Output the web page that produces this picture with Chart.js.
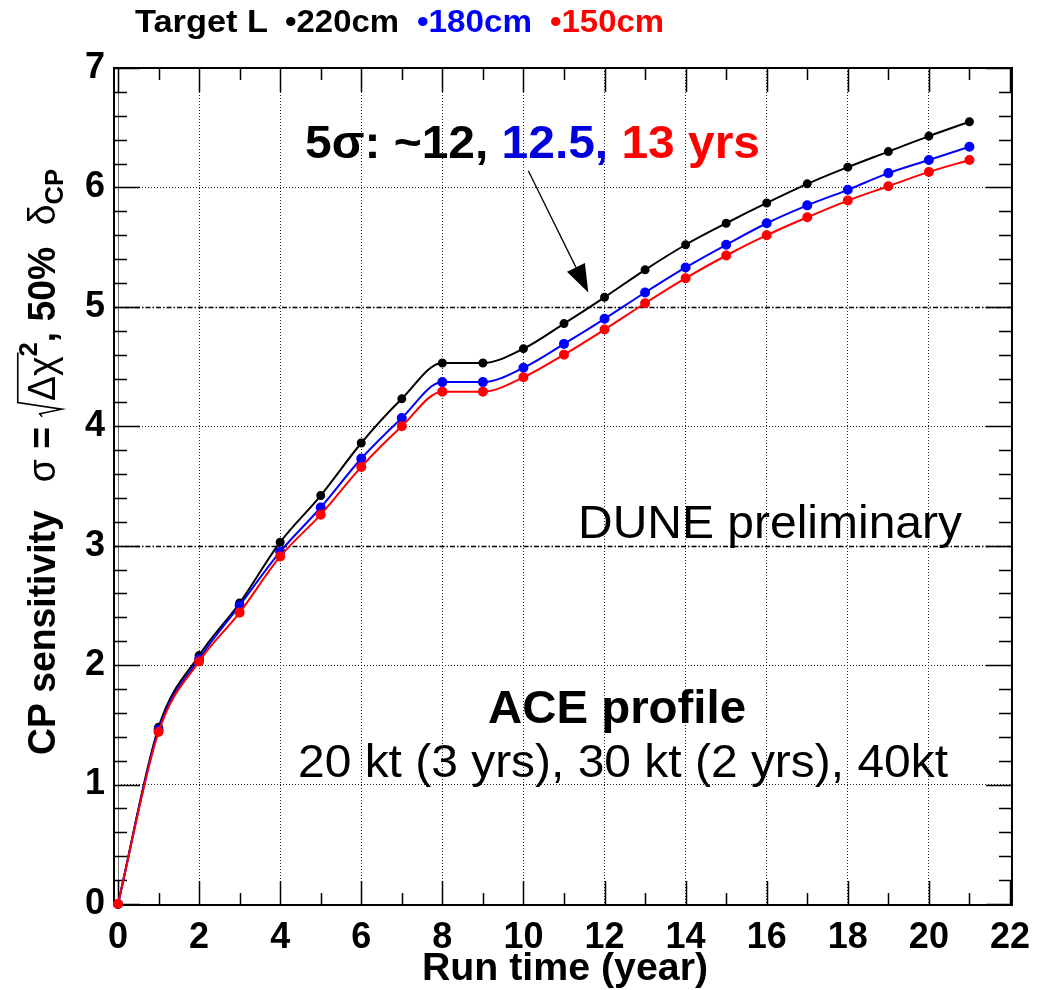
<!DOCTYPE html>
<html>
<head>
<meta charset="utf-8">
<title>CP sensitivity vs run time</title>
<script src="https://cdn.jsdelivr.net/npm/chart.js@4.4.1/dist/chart.umd.min.js"></script>
<style>
  html, body { margin: 0; padding: 0; background: #fff; }
  #wrap { width: 1042px; height: 990px; }
</style>
</head>
<body>
<div id="wrap"><canvas id="cpChart" width="1042" height="990"></canvas></div>
<script>
// run time in years and sqrt(delta chi2) for each target length
const runYears = [0, 1, 2, 3, 4, 5, 6, 7, 8, 9, 10, 11, 12, 13, 14, 15, 16, 17, 18, 19, 20, 21];
const sens220 = [0, 1.48, 2.08, 2.52, 3.03, 3.42, 3.86, 4.23, 4.53, 4.53, 4.65, 4.86, 5.08, 5.31, 5.52, 5.70, 5.87, 6.03, 6.17, 6.30, 6.43, 6.55];
const sens180 = [0, 1.46, 2.05, 2.50, 2.95, 3.32, 3.73, 4.07, 4.37, 4.37, 4.49, 4.69, 4.90, 5.12, 5.33, 5.52, 5.70, 5.85, 5.98, 6.12, 6.23, 6.34];
const sens150 = [0, 1.44, 2.03, 2.44, 2.91, 3.26, 3.66, 4.00, 4.29, 4.29, 4.41, 4.60, 4.81, 5.03, 5.24, 5.43, 5.60, 5.75, 5.89, 6.01, 6.13, 6.23];
const xTicks = [0, 2, 4, 6, 8, 10, 12, 14, 16, 18, 20, 22];
const yTicks = [0, 1, 2, 3, 4, 5, 6, 7];
const sigmaLevels = [3, 5];
// arrow from the 5 sigma note down to the crossing
const arrowFrom = { x: 10.12, y: 6.14 };
const arrowTo = { x: 11.6, y: 5.12 };

const FONT = '"Liberation Sans", Arial, Helvetica, sans-serif';
const BLUE = '#0000ff';
const RED = '#ff0000';

function series(vals) {
  return runYears.map((x, i) => ({ x: x, y: vals[i] }));
}

// draw a string squeezed/stretched to a given width
function fitText(ctx, parts, x0, x1, baseline) {
  let total = 0;
  parts.forEach(p => { total += ctx.measureText(p.t).width; });
  const k = (x1 - x0) / total;
  ctx.save();
  ctx.translate(x0, baseline);
  ctx.scale(k, 1);
  let cx = 0;
  parts.forEach(p => {
    ctx.fillStyle = p.c;
    ctx.fillText(p.t, cx, 0);
    cx += ctx.measureText(p.t).width;
  });
  ctx.restore();
}

// y title: CP sensitivity  σ = √(Δχ²), 50% δ_CP  drawn along a rotated baseline
function drawYTitle(ctx, cx, cy, length) {
  const em = 38;
  const big = 'bold ' + em + 'px ' + FONT;
  const greek = em + 'px ' + FONT;
  const small = 'bold ' + Math.round(em * 0.68) + 'px ' + FONT;
  const segs = [
    { t: 'CP sensitivity', f: big, dy: 0 },
    { gap: 0.75 * em },
    { t: 'σ', f: greek, dy: 0 },
    { t: ' = ', f: big, dy: 0 },
    { radical: true, w: 0.42 * em },
    { t: 'Δχ', f: greek, dy: 0 },
    { t: '2', f: small, dy: -0.48 * em },
    { t: ', 50% ', f: big, dy: 0 },
    { gap: 0.3 * em },
    { t: 'δ', f: greek, dy: 0 },
    { t: 'CP', f: small, dy: 0.22 * em }
  ];
  let total = 0;
  segs.forEach(s => {
    if (s.gap) s.w = s.gap;
    else if (!s.radical) { ctx.font = s.f; s.w = ctx.measureText(s.t).width; }
    total += s.w;
  });
  const k = length / total;
  ctx.save();
  ctx.translate(cx, cy);
  ctx.rotate(-Math.PI / 2);
  ctx.scale(k, 1);
  ctx.fillStyle = '#000';
  ctx.strokeStyle = '#000';
  let x = -total / 2;
  segs.forEach((s, i) => {
    if (s.radical) {
      const under = segs[i + 1].w + 4;
      ctx.lineWidth = 1.6;
      ctx.beginPath();
      ctx.moveTo(x, -0.34 * em);
      ctx.lineTo(x + 0.08 * em, -0.40 * em);
      ctx.lineTo(x + 0.20 * em, 0.18 * em);
      ctx.lineTo(x + 0.38 * em, -0.98 * em);
      ctx.lineTo(x + s.w + under, -0.98 * em);
      ctx.stroke();
    } else if (!s.gap) {
      ctx.font = s.f;
      ctx.fillText(s.t, x, s.dy);
    }
    x += s.w;
  });
  ctx.restore();
}

const frameTicks = {
  id: 'frameTicks',
  beforeDatasetsDraw(chart) {
    const { ctx, chartArea: a, scales: { x, y } } = chart;
    const fl = a.left - 4, fr = a.right + 2, ft = a.top, fb = a.bottom + 1;
    ctx.save();
    // dash-dot lines at 3 and 5 sigma
    ctx.strokeStyle = '#000';
    ctx.lineWidth = 1.6;
    ctx.setLineDash([5, 2, 1.5, 2]);
    sigmaLevels.forEach(v => {
      const py = Math.round(y.getPixelForValue(v)) + 0.5;
      ctx.beginPath();
      ctx.moveTo(fl, py);
      ctx.lineTo(fr, py);
      ctx.stroke();
    });
    ctx.setLineDash([]);
    // frame
    ctx.lineWidth = 2;
    ctx.strokeRect(fl, ft, fr - fl, fb - ft);
    ctx.lineWidth = 1;
    ctx.strokeStyle = '#777';
    ctx.beginPath();
    ctx.moveTo(a.left + 0.5, ft);
    ctx.lineTo(a.left + 0.5, fb);
    ctx.stroke();
    // ticks pointing into the frame
    ctx.strokeStyle = '#000';
    ctx.lineWidth = 1.5;
    ctx.beginPath();
    for (let i = 0; i <= 35; i++) {
      const py = Math.round(y.getPixelForValue(i / 5)) + 0.5;
      const len = i % 5 === 0 ? 26 : 13;
      ctx.moveTo(fl, py); ctx.lineTo(fl + len, py);
      ctx.moveTo(fr, py); ctx.lineTo(fr - len, py);
    }
    for (let v = 0; v <= 22; v++) {
      const px = Math.round(x.getPixelForValue(v)) + 0.5;
      const len = v % 2 === 0 ? 24 : 12;
      ctx.moveTo(px, fb); ctx.lineTo(px, fb - len);
      ctx.moveTo(px, ft); ctx.lineTo(px, ft + len);
    }
    ctx.stroke();
    ctx.restore();
  }
};

const labels = {
  id: 'labels',
  afterDraw(chart) {
    const { ctx, scales: { x, y } } = chart;
    ctx.save();
    ctx.textBaseline = 'alphabetic';
    ctx.textAlign = 'left';

    // legend line on top
    ctx.font = 'bold 31px ' + FONT;
    fitText(ctx, [{ t: 'Target L', c: '#000' }], 135, 268, 32);
    fitText(ctx, [{ t: '•220cm', c: '#000' }], 285, 399, 32);
    fitText(ctx, [{ t: '•180cm', c: BLUE }], 417, 532, 32);
    fitText(ctx, [{ t: '•150cm', c: RED }], 550, 664, 32);

    // 5 sigma note
    ctx.font = 'bold 46px ' + FONT;
    fitText(ctx, [
      { t: '5σ: ~12, ', c: '#000' },
      { t: '12.5, ', c: '#0000dd' },
      { t: '13 yrs', c: RED }
    ], 305, 760, 158);

    // arrow
    const ax0 = x.getPixelForValue(arrowFrom.x), ay0 = y.getPixelForValue(arrowFrom.y);
    const ax1 = x.getPixelForValue(arrowTo.x), ay1 = y.getPixelForValue(arrowTo.y);
    const ang = Math.atan2(ay1 - ay0, ax1 - ax0);
    const hl = 28, hw = 10;
    const bx = ax1 - hl * Math.cos(ang), by = ay1 - hl * Math.sin(ang);
    ctx.strokeStyle = '#000';
    ctx.lineWidth = 1.3;
    ctx.beginPath();
    ctx.moveTo(ax0, ay0);
    ctx.lineTo(bx, by);
    ctx.stroke();
    ctx.fillStyle = '#000';
    ctx.beginPath();
    ctx.moveTo(ax1, ay1);
    ctx.lineTo(bx + hw * Math.sin(ang), by - hw * Math.cos(ang));
    ctx.lineTo(bx - hw * Math.sin(ang), by + hw * Math.cos(ang));
    ctx.closePath();
    ctx.fill();

    ctx.font = '46px ' + FONT;
    fitText(ctx, [{ t: 'DUNE preliminary', c: '#000' }], 578, 962, 538);
    ctx.font = 'bold 46px ' + FONT;
    fitText(ctx, [{ t: 'ACE profile', c: '#000' }], 488, 746, 723);
    ctx.font = '46px ' + FONT;
    fitText(ctx, [{ t: '20 kt (3 yrs), 30 kt (2 yrs), 40kt', c: '#000' }], 298, 948, 777);

    // axis titles
    ctx.font = 'bold 38px ' + FONT;
    fitText(ctx, [{ t: 'Run time (year)', c: '#000' }], 422, 708, 980);
    drawYTitle(ctx, 55, 462, 586);
    ctx.restore();
  }
};

const tickFont = { family: FONT, weight: 'bold', size: 36 };

new Chart(document.getElementById('cpChart'), {
  type: 'line',
  data: {
    datasets: [
      { label: '220cm', data: series(sens220), borderColor: '#000', backgroundColor: '#000', pointRadius: 3.5, borderWidth: 2, order: 3, clip: false },
      { label: '180cm', data: series(sens180), borderColor: BLUE, backgroundColor: BLUE, pointRadius: 4, borderWidth: 2, order: 2, clip: false },
      { label: '150cm', data: series(sens150), borderColor: RED, backgroundColor: RED, pointRadius: 4, borderWidth: 2, order: 1, clip: false }
    ]
  },
  options: {
    responsive: false,
    animation: false,
    events: [],
    layout: { padding: { top: 68, right: 29, left: 0, bottom: 0 } },
    elements: {
      line: { cubicInterpolationMode: 'monotone' },
      point: { borderWidth: 0 }
    },
    plugins: { legend: { display: false }, tooltip: { enabled: false } },
    scales: {
      x: {
        type: 'linear',
        min: 0,
        max: 22,
        afterBuildTicks: s => { s.ticks = xTicks.map(v => ({ value: v })); },
        afterFit: s => { s.height = 86; },
        ticks: { font: tickFont, color: '#000', padding: 12, maxRotation: 0, autoSkip: false },
        grid: {
          drawTicks: false,
          lineWidth: 1,
          color: c => (c.tick && (c.tick.value === 0 || c.tick.value === 22)) ? 'rgba(0,0,0,0)' : '#222'
        },
        border: { display: false, dash: [1, 2] }
      },
      y: {
        type: 'linear',
        min: 0,
        max: 7,
        afterBuildTicks: s => { s.ticks = yTicks.map(v => ({ value: v })); },
        afterFit: s => { s.width = 118; },
        ticks: { font: tickFont, color: '#000', padding: 13, autoSkip: false },
        grid: {
          drawTicks: false,
          lineWidth: 1,
          color: c => (c.tick && [0, 7].concat(sigmaLevels).includes(c.tick.value)) ? 'rgba(0,0,0,0)' : '#222'
        },
        border: { display: false, dash: [1, 2] }
      }
    }
  },
  plugins: [frameTicks, labels]
});
</script>
</body>
</html>
